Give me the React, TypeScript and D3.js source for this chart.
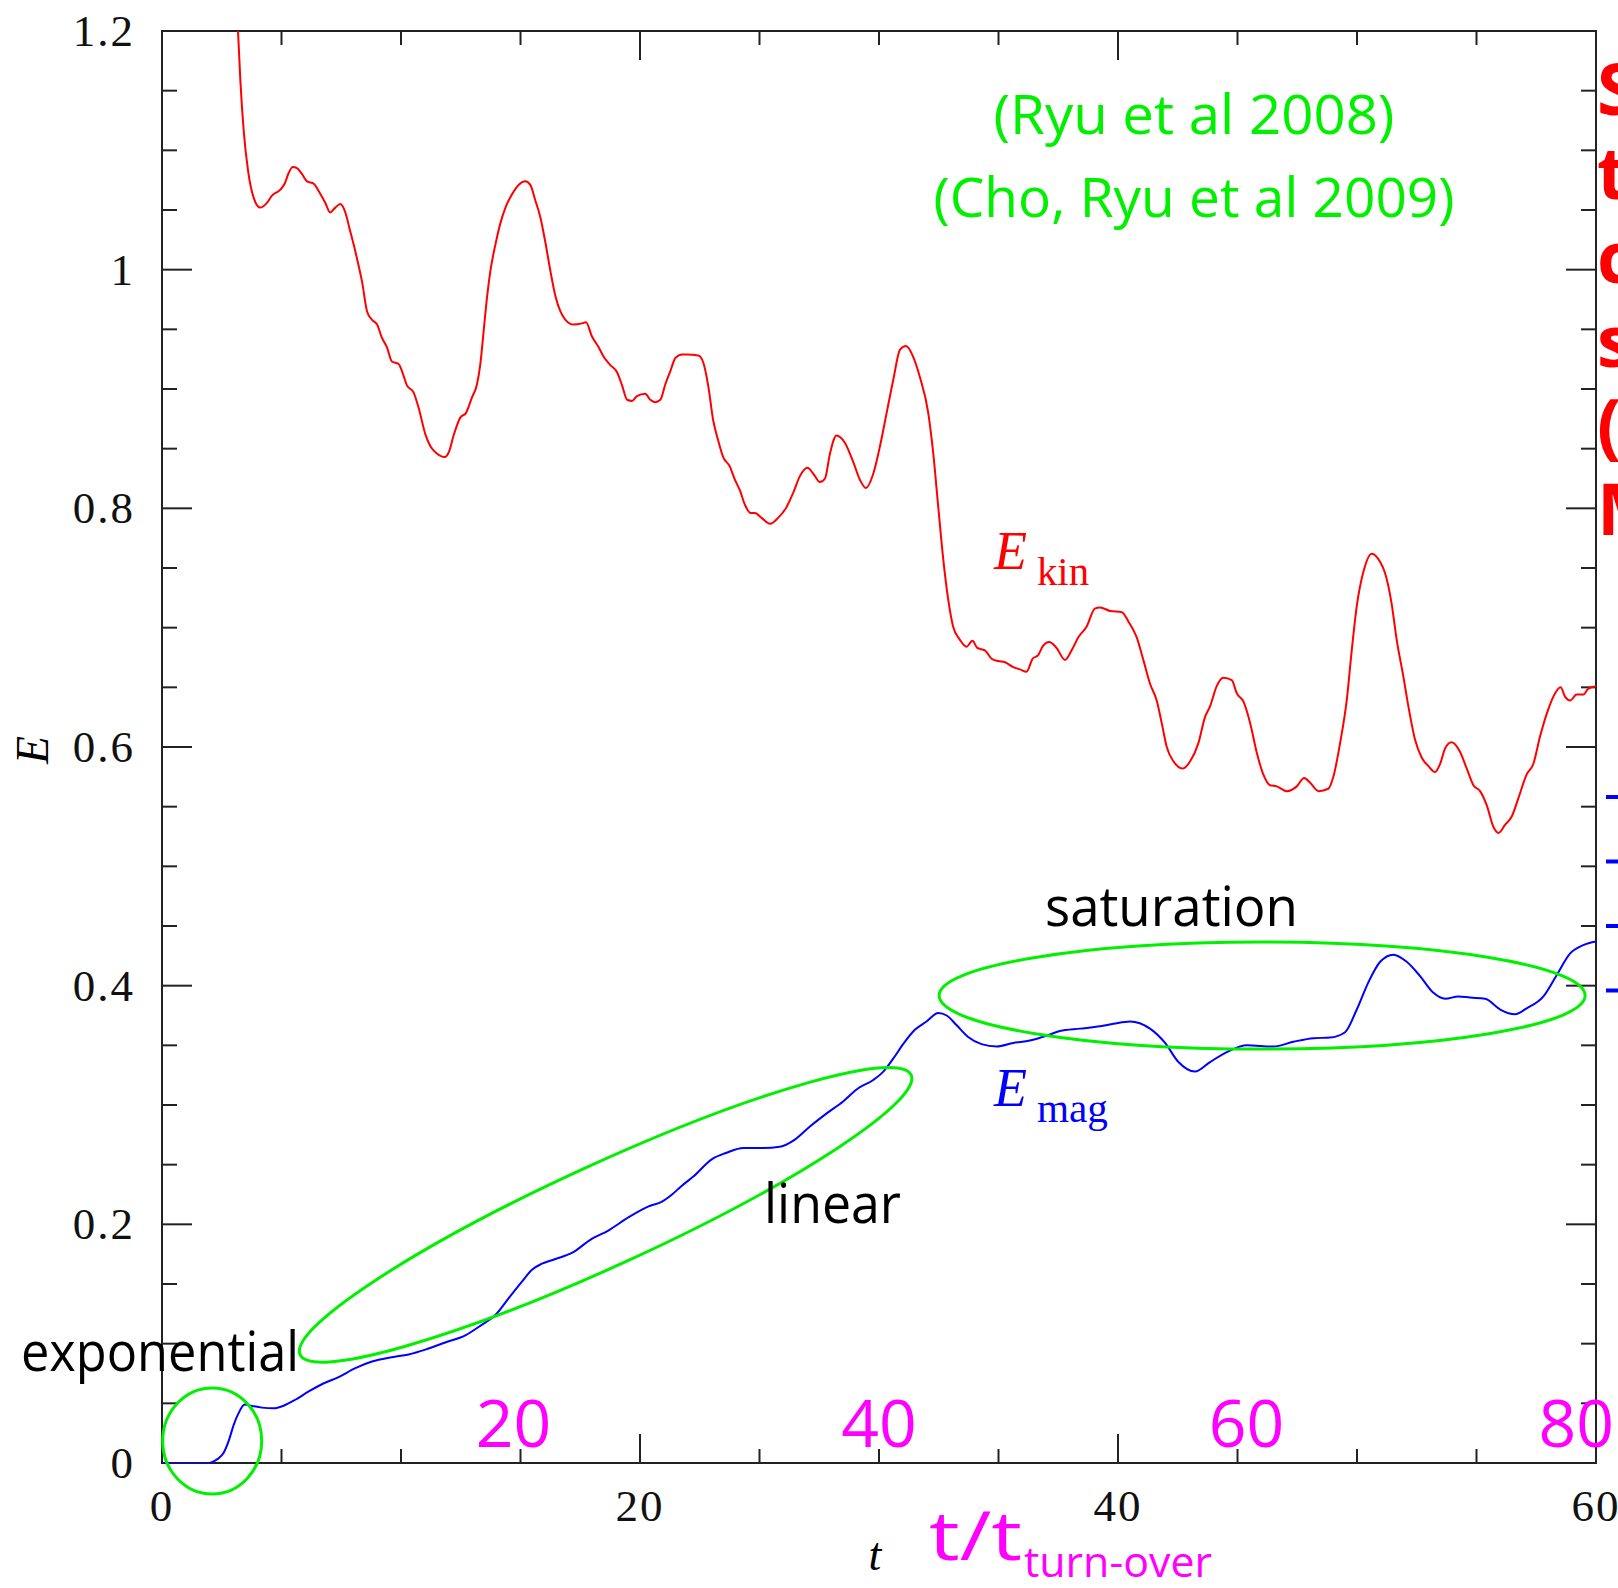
import * as d3 from 'd3';
import { useEffect, useRef } from 'react';

// E_kin(t)
const kinetic: [number, number][] = [
  [3.18, 1.2], [3.28, 1.158], [3.42, 1.116], [3.6, 1.083], [3.84, 1.06], [4.11, 1.052], [4.39, 1.056],
  [4.6, 1.062], [4.95, 1.067], [5.13, 1.072], [5.3, 1.081], [5.47, 1.086], [5.65, 1.085], [5.86, 1.08],
  [6.07, 1.074], [6.35, 1.072], [6.58, 1.065], [6.83, 1.056], [7.04, 1.048], [7.25, 1.052], [7.46, 1.055],
  [7.67, 1.048], [7.84, 1.035], [8.02, 1.021], [8.23, 1.003], [8.37, 0.99], [8.58, 0.965], [8.79, 0.958],
  [9.0, 0.954], [9.2, 0.943], [9.41, 0.935], [9.62, 0.923], [9.9, 0.921], [10.04, 0.915], [10.25, 0.903],
  [10.53, 0.897], [10.74, 0.884], [11.02, 0.862], [11.23, 0.852], [11.5, 0.846], [11.83, 0.843], [12.0, 0.847],
  [12.2, 0.861], [12.48, 0.876], [12.72, 0.88], [12.97, 0.893], [13.18, 0.904], [13.32, 0.921], [13.46, 0.949],
  [13.6, 0.977], [13.74, 0.999], [13.95, 1.021], [14.16, 1.039], [14.37, 1.052], [14.64, 1.063], [14.92, 1.071],
  [15.2, 1.074], [15.41, 1.071], [15.62, 1.058], [15.83, 1.044], [16.04, 1.023], [16.25, 0.999], [16.46, 0.978],
  [16.67, 0.965], [16.88, 0.958], [17.22, 0.954], [17.57, 0.955], [17.74, 0.956], [17.99, 0.944], [18.27, 0.935],
  [18.48, 0.927], [18.76, 0.92], [19.04, 0.914], [19.25, 0.903], [19.46, 0.891], [19.67, 0.89], [19.87, 0.894],
  [20.22, 0.896], [20.43, 0.891], [20.64, 0.889], [20.85, 0.891], [21.06, 0.904], [21.27, 0.915], [21.48, 0.926],
  [21.76, 0.929], [21.95, 0.929], [22.44, 0.928], [22.65, 0.922], [22.86, 0.902], [23.06, 0.874], [23.27, 0.857],
  [23.48, 0.843], [23.76, 0.835], [23.97, 0.824], [24.18, 0.815], [24.39, 0.803], [24.63, 0.796], [24.81, 0.796],
  [25.09, 0.792], [25.44, 0.787], [25.78, 0.792], [26.13, 0.801], [26.41, 0.813], [26.69, 0.827], [27.01, 0.834],
  [27.25, 0.829], [27.53, 0.822], [27.74, 0.825], [27.95, 0.846], [28.22, 0.861], [28.57, 0.855], [28.92, 0.839],
  [29.2, 0.824], [29.45, 0.817], [29.76, 0.829], [30.04, 0.852], [30.32, 0.88], [30.6, 0.908], [30.88, 0.933],
  [31.13, 0.936], [31.43, 0.927], [31.71, 0.91], [32.06, 0.88], [32.27, 0.846], [32.48, 0.801], [32.69, 0.757],
  [32.9, 0.723], [33.1, 0.701], [33.38, 0.69], [33.66, 0.684], [33.91, 0.689], [34.11, 0.683], [34.43, 0.681],
  [34.71, 0.674], [34.99, 0.672], [35.27, 0.671], [35.62, 0.667], [35.9, 0.665], [36.17, 0.663], [36.43, 0.674],
  [36.66, 0.677], [36.87, 0.685], [37.12, 0.688], [37.43, 0.683], [37.78, 0.673], [38.06, 0.681], [38.34, 0.692],
  [38.69, 0.701], [39.03, 0.716], [39.25, 0.717], [39.67, 0.714], [40.16, 0.713], [40.44, 0.705], [40.78, 0.692],
  [41.06, 0.673], [41.34, 0.653], [41.62, 0.639], [41.83, 0.62], [42.04, 0.6], [42.32, 0.588], [42.71, 0.582],
  [43.02, 0.588], [43.36, 0.603], [43.64, 0.625], [43.85, 0.634], [44.13, 0.651], [44.41, 0.658], [44.76, 0.656],
  [44.97, 0.645], [45.25, 0.638], [45.53, 0.62], [45.81, 0.595], [46.08, 0.577], [46.36, 0.568], [46.64, 0.567],
  [47.06, 0.563], [47.48, 0.567], [47.79, 0.574], [48.04, 0.57], [48.39, 0.563], [48.8, 0.565], [49.01, 0.575],
  [49.29, 0.603], [49.57, 0.639], [49.78, 0.681], [49.99, 0.718], [50.27, 0.747], [50.62, 0.762], [50.97, 0.755],
  [51.17, 0.746], [51.45, 0.72], [51.66, 0.69], [51.94, 0.659], [52.15, 0.634], [52.43, 0.606], [52.71, 0.591],
  [52.99, 0.584], [53.27, 0.579], [53.48, 0.586], [53.69, 0.599], [53.96, 0.604], [54.31, 0.596], [54.59, 0.582],
  [54.87, 0.568], [55.15, 0.563], [55.43, 0.551], [55.71, 0.533], [55.92, 0.528], [56.2, 0.535], [56.48, 0.542],
  [56.75, 0.557], [57.1, 0.577], [57.38, 0.586], [57.66, 0.609], [58.01, 0.632], [58.29, 0.645], [58.52, 0.65],
  [58.71, 0.642], [58.92, 0.639], [59.19, 0.644], [59.47, 0.644], [59.68, 0.649], [60, 0.651],
];

// E_mag(t)
const magnetic: [number, number][] = [
  [0, 0], [1.95, 0], [2.3, 0.003], [2.58, 0.0085], [2.79, 0.0185], [3.0, 0.032], [3.21, 0.042], [3.46, 0.049],
  [3.77, 0.0478], [4.18, 0.0464], [4.67, 0.0458], [5.09, 0.048], [5.58, 0.053], [6.14, 0.06], [6.69, 0.066],
  [7.39, 0.072], [8.09, 0.0795], [8.79, 0.085], [9.62, 0.0886], [10.32, 0.091], [11.02, 0.095], [11.85, 0.101],
  [12.69, 0.107], [13.39, 0.116], [13.95, 0.124], [14.5, 0.138], [15.06, 0.152], [15.48, 0.162], [15.9, 0.167],
  [16.46, 0.171], [17.15, 0.176], [17.92, 0.187], [18.69, 0.195], [19.53, 0.206], [20.36, 0.215], [20.92, 0.219],
  [21.34, 0.225], [21.73, 0.232], [22.23, 0.24], [23.0, 0.2545], [23.62, 0.26], [24.32, 0.264], [25.16, 0.264],
  [25.85, 0.265], [26.48, 0.271], [27.11, 0.282], [27.81, 0.293], [28.5, 0.303], [29.13, 0.314], [29.76, 0.321],
  [30.18, 0.328], [30.6, 0.339], [31.01, 0.351], [31.5, 0.363], [31.99, 0.37], [32.48, 0.377], [32.83, 0.375],
  [33.24, 0.367], [33.73, 0.357], [34.29, 0.351], [34.92, 0.349], [35.62, 0.352], [36.31, 0.354], [37.01, 0.358],
  [37.57, 0.362], [38.41, 0.364], [39.25, 0.366], [39.81, 0.368], [40.5, 0.37], [41.34, 0.364], [41.97, 0.352],
  [42.53, 0.336], [43.22, 0.328], [43.85, 0.336], [44.62, 0.345], [45.39, 0.35], [46.5, 0.349], [47.34, 0.353],
  [48.18, 0.356], [48.87, 0.3565], [49.5, 0.361], [49.99, 0.38], [50.48, 0.403], [50.97, 0.42], [51.52, 0.426],
  [52.08, 0.42], [52.64, 0.408], [53.2, 0.394], [53.69, 0.389], [54.24, 0.391], [54.73, 0.39], [55.36, 0.389],
  [55.99, 0.38], [56.61, 0.376], [57.1, 0.381], [57.8, 0.391], [58.36, 0.409], [58.92, 0.427], [59.47, 0.434],
  [60, 0.437],
];

const xMajor = [0, 20, 40, 60];
const xMinor = d3.range(0, 61, 5);
const yMajor = [0, 0.2, 0.4, 0.6, 0.8, 1, 1.2];
const yMinor = d3.range(0, 1.2001, 0.05);
const turnoverLabels = [20, 40, 60, 80]; // t / t_turn-over, t_turn-over = 0.75
const refs = ['(Ryu et al 2008)', '(Cho, Ryu et al 2009)'];
const sideLetters = ['S', 't', 'c', 's', '(', 'M'];

const App = () => {
  const ref = useRef<SVGSVGElement>(null);
  const width = 1618;
  const height = 1588;

  useEffect(() => {
    const svg = d3.select(ref.current);
    svg.selectAll('*').remove();
    const margin = { top: 31, right: 22, bottom: 125, left: 162 };
    const x0 = margin.left, x1 = width - margin.right;
    const y0 = height - margin.bottom, y1 = margin.top;

    const x = d3.scaleLinear().domain([0, 60]).range([x0, x1]);
    const xt = d3.scaleLinear().domain([0, 80]).range([x0, x1]);
    const y = d3.scaleLinear().domain([0, 1.2]).range([y0, y1]);

    const serif = '"Liberation Serif", "DejaVu Serif", serif';
    const hand = '"Open Sans", "Noto Sans", sans-serif';

    svg.append('defs').append('clipPath').attr('id', 'plotclip')
      .append('rect').attr('x', x0).attr('y', y1).attr('width', x1 - x0).attr('height', y0 - y1);

    const ax = svg.append('g').attr('stroke', '#222').attr('stroke-width', 2);
    ax.append('rect').attr('x', x0).attr('y', y1).attr('width', x1 - x0).attr('height', y0 - y1).attr('fill', 'none');

    xMinor.forEach((v) => {
      const len = xMajor.includes(v) ? 29 : 14;
      ax.append('line').attr('x1', x(v)).attr('x2', x(v)).attr('y1', y0).attr('y2', y0 - len);
      ax.append('line').attr('x1', x(v)).attr('x2', x(v)).attr('y1', y1).attr('y2', y1 + len);
    });
    yMinor.forEach((v, i) => {
      const len = i % 4 === 0 ? 30 : 15;
      ax.append('line').attr('y1', y(v)).attr('y2', y(v)).attr('x1', x0).attr('x2', x0 + len);
      ax.append('line').attr('y1', y(v)).attr('y2', y(v)).attr('x1', x1).attr('x2', x1 - len);
    });

    svg.append('g').attr('font-family', serif).attr('font-size', 45).attr('fill', '#111')
      .attr('text-anchor', 'end')
      .selectAll('text').data(yMajor).enter().append('text')
      .attr('x', x0 - 27).attr('y', (d) => y(d) + 15)
      .attr('letter-spacing', 2)
      .text((d) => (d === 0 || d === 1 ? String(d) : d.toFixed(1)));

    svg.append('g').attr('font-family', serif).attr('font-size', 45).attr('fill', '#111')
      .attr('text-anchor', 'middle')
      .selectAll('text').data(xMajor).enter().append('text')
      .attr('x', (d) => x(d)).attr('y', y0 + 58)
      .attr('letter-spacing', 2)
      .text((d) => String(d));

    svg.append('text').attr('font-family', serif).attr('font-style', 'italic').attr('font-size', 46)
      .attr('transform', `translate(48,${(y0 + y1) / 2 + 3}) rotate(-90)`)
      .attr('text-anchor', 'middle').text('E');
    svg.append('text').attr('font-family', serif).attr('font-style', 'italic').attr('font-size', 46)
      .attr('x', 875).attr('y', 1570).attr('text-anchor', 'middle').text('t');

    const line = d3.line<[number, number]>().x((d) => x(d[0])).y((d) => y(d[1])).curve(d3.curveMonotoneX);
    const plot = svg.append('g').attr('clip-path', 'url(#plotclip)');
    plot.append('path').datum(kinetic).attr('d', line).attr('fill', 'none').attr('stroke', '#ff0000').attr('stroke-width', 2);
    plot.append('path').datum(magnetic).attr('d', line).attr('fill', 'none').attr('stroke', '#0000ff').attr('stroke-width', 2);

    // curve labels
    const lab = (color: string, yy: number, sub: string, subLen: number) => {
      svg.append('text').attr('font-family', serif).attr('fill', color).attr('x', 994).attr('y', yy)
        .attr('font-style', 'italic').attr('font-size', 54).text('E');
      svg.append('text').attr('font-family', serif).attr('fill', color).attr('x', 1037).attr('y', yy + 16)
        .attr('font-size', 40).attr('textLength', subLen).attr('lengthAdjust', 'spacingAndGlyphs').text(sub);
    };
    lab('#ff0000', 569, 'kin', 52);
    lab('#0000ff', 1106, 'mag', 71);

    // green ellipses
    const g = svg.append('g').attr('fill', 'none').attr('stroke', '#00f000').attr('stroke-width', 3);
    g.append('ellipse').attr('cx', x(2.1)).attr('cy', y(0.0185)).attr('rx', 49.5).attr('ry', 53);
    g.append('ellipse').attr('rx', 336).attr('ry', 51)
      .attr('transform', `translate(${x(18.56)},${y(0.208)}) rotate(-24.6)`);
    g.append('ellipse').attr('cx', x(46.03)).attr('cy', y(0.3917)).attr('rx', 323).attr('ry', 53.5);

    // phase annotations
    const note = (s: string, xx: number, yy: number, len: number) =>
      svg.append('text').attr('font-family', hand).attr('font-size', 54).attr('fill', '#000')
        .attr('x', xx).attr('y', yy).attr('textLength', len).attr('lengthAdjust', 'spacingAndGlyphs').text(s);
    note('exponential', 21, 1371, 278);
    note('linear', 764, 1223, 137);
    note('saturation', 1045, 926, 253);

    svg.append('g').attr('font-family', hand).attr('font-size', 54).attr('fill', '#00f000')
      .attr('text-anchor', 'middle')
      .selectAll('text').data(refs).enter().append('text')
      .attr('x', 1194).attr('y', (d, i) => 134 + i * 83)
      .attr('textLength', (d, i) => (i === 0 ? 401 : 521)).attr('lengthAdjust', 'spacingAndGlyphs')
      .text((d) => d);

    // t / t_turn-over labels
    const shift = [-7, 0, 9, 18];
    svg.append('g').attr('font-family', hand).attr('font-size', 66).attr('fill', '#ff00ff')
      .selectAll('text').data(turnoverLabels).enter().append('text')
      .attr('x', (d, i) => xt(d) + shift[i])
      .attr('text-anchor', (d) => (d === 80 ? 'end' : 'middle'))
      .attr('y', 1447).text((d) => String(d));
    svg.append('text').attr('font-family', hand).attr('fill', '#ff00ff').attr('x', 929).attr('y', 1560)
      .attr('font-size', 68).attr('textLength', 93).attr('lengthAdjust', 'spacingAndGlyphs').text('t/t');
    svg.append('text').attr('font-family', hand).attr('fill', '#ff00ff').attr('x', 1024).attr('y', 1577)
      .attr('font-size', 42).attr('textLength', 188).attr('lengthAdjust', 'spacingAndGlyphs').text('turn-over');

    // clipped side text
    svg.append('g').attr('font-family', hand).attr('font-size', 72).attr('font-weight', 700).attr('fill', '#ff0000')
      .selectAll('text').data(sideLetters).enter().append('text')
      .attr('x', 1597).attr('y', (d, i) => 115 + i * 84).text((d) => d);
    svg.append('g').attr('stroke', '#0000ff').attr('stroke-width', 4)
      .selectAll('line').data([0, 1, 2, 3]).enter().append('line')
      .attr('x1', 1606).attr('x2', 1618).attr('y1', (d) => 797 + d * 64.5).attr('y2', (d) => 797 + d * 64.5);
  }, []);

  return (
    <svg ref={ref} width={width} height={height}
      style={{ position: 'absolute', left: 0, top: 0, background: '#fff' }} />
  );
};

export default App;
